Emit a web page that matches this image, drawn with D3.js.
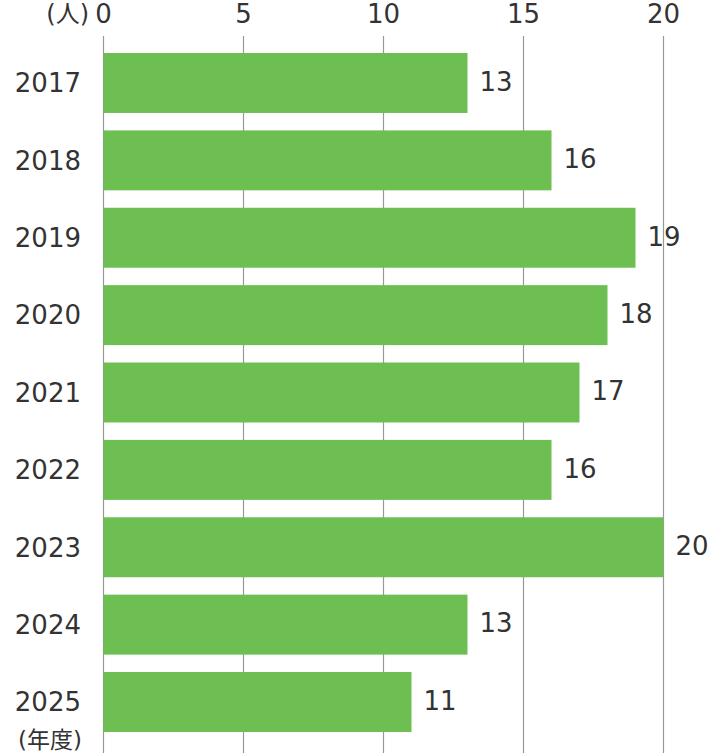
<!DOCTYPE html>
<html>
<head>
<meta charset="utf-8">
<script src="https://cdn.jsdelivr.net/npm/d3@7"></script>
<style>
  body { margin: 0; background: #fff; }
  text { font-family: "DejaVu Sans", "Noto Sans CJK JP", sans-serif; fill: #333; }
</style>
</head>
<body>
<svg width="710" height="753"></svg>
<script>
var years = ["2017", "2018", "2019", "2020", "2021", "2022", "2023", "2024", "2025"];
var counts = [13, 16, 19, 18, 17, 16, 20, 13, 11];
var ticks = [0, 5, 10, 15, 20];

var svg = d3.select("svg");
var width = +svg.attr("width"),
    height = +svg.attr("height");

var x = d3.scaleLinear().domain([0, 20]).range([103.5, 663.5]);
var y = d3.scaleBand().domain(years).range([53, 732]).paddingInner(0.225).paddingOuter(0);

// gridlines
svg.append("g")
    .selectAll("line")
    .data(ticks)
    .enter().append("line")
    .attr("x1", function(d) { return x(d); })
    .attr("x2", function(d) { return x(d); })
    .attr("y1", 36)
    .attr("y2", height)
    .attr("stroke", "#999")
    .attr("stroke-width", 1.2);

// tick labels
svg.append("g")
    .selectAll("text")
    .data(ticks)
    .enter().append("text")
    .attr("x", function(d) { return x(d); })
    .attr("y", 23)
    .attr("text-anchor", "middle")
    .attr("font-size", 26)
    .text(function(d) { return d; });

svg.append("text")
    .attr("x", 89)
    .attr("y", 22)
    .attr("text-anchor", "end")
    .attr("font-size", 24)
    .text("(人)");

// bars
svg.append("g")
    .selectAll("rect")
    .data(counts)
    .enter().append("rect")
    .attr("x", x(0))
    .attr("y", function(d, i) { return y(years[i]); })
    .attr("width", function(d) { return x(d) - x(0); })
    .attr("height", y.bandwidth())
    .attr("fill", "#6cbf50");

// value labels
svg.append("g")
    .selectAll("text")
    .data(counts)
    .enter().append("text")
    .attr("x", function(d) { return x(d) + 12; })
    .attr("y", function(d, i) { return y(years[i]) + y.bandwidth() / 2; })
    .attr("dy", "0.3em")
    .attr("font-size", 26)
    .text(function(d) { return d; });

// year labels
svg.append("g")
    .selectAll("text")
    .data(years)
    .enter().append("text")
    .attr("x", 81)
    .attr("y", function(d) { return y(d) + y.bandwidth() / 2; })
    .attr("dy", "0.36em")
    .attr("text-anchor", "end")
    .attr("font-size", 26)
    .text(function(d) { return d; });

svg.append("text")
    .attr("x", 82)
    .attr("y", 748)
    .attr("text-anchor", "end")
    .attr("font-size", 23)
    .text("(年度)");
</script>
</body>
</html>
